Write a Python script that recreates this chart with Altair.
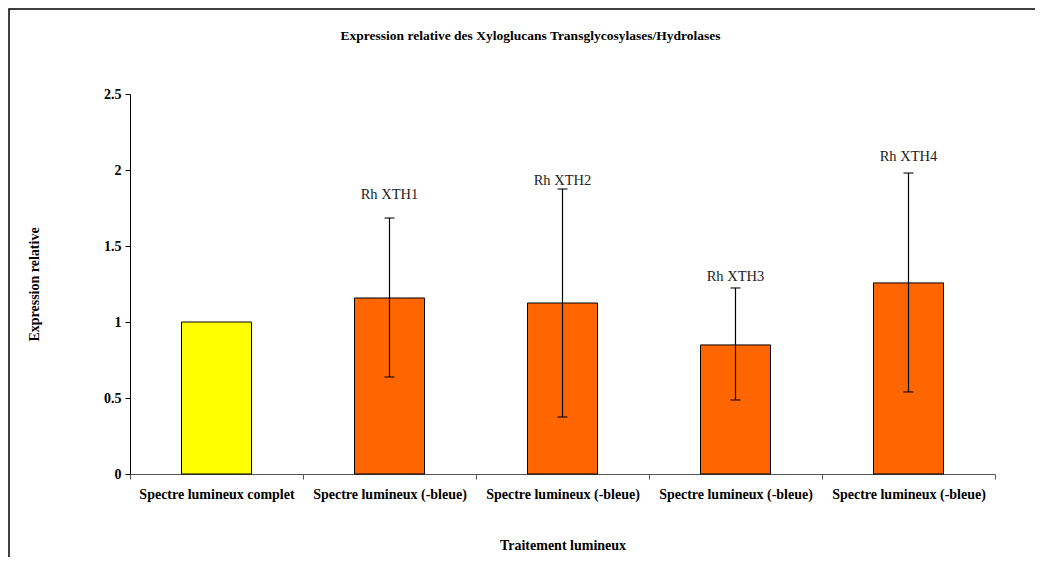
import altair as alt
import pandas as pd

categories = ["c0", "c1", "c2", "c3", "c4"]
cat_labels = ["Spectre lumineux complet", "Spectre lumineux (-bleue)", "Spectre lumineux (-bleue)",
              "Spectre lumineux (-bleue)", "Spectre lumineux (-bleue)"]
values = [1.0, 1.158, 1.125, 0.849, 1.257]
err_low = [1.0, 0.638, 0.375, 0.487, 0.540]
err_high = [1.0, 1.684, 1.875, 1.224, 1.980]
gene_labels = ["", "Rh XTH1", "Rh XTH2", "Rh XTH3", "Rh XTH4"]
label_pos = [None, 1.836, 1.928, 1.296, 2.086]
colors = ["#FFFF00", "#FF6600", "#FF6600", "#FF6600", "#FF6600"]

df = pd.DataFrame({
    "cat": categories, "value": values, "lo": err_low, "hi": err_high,
    "gene": gene_labels, "ly": label_pos, "color": colors,
})
err_df = df[df["lo"] != df["hi"]]
lab_df = df[df["gene"] != ""]

label_expr = "{" + ",".join(f"'{c}':'{l}'" for c, l in zip(categories, cat_labels)) + "}[datum.value]"

FONT = "Liberation Serif"

x = alt.X("cat:N", sort=categories,
          scale=alt.Scale(paddingInner=0, paddingOuter=0),
          axis=alt.Axis(title="Traitement lumineux", labelExpr=label_expr, labelAngle=0,
                        tickBand="extent", tickSize=5, tickColor="#555", domainColor="#555",
                        labelFont=FONT, labelFontWeight="bold", labelFontSize=14, labelColor="#000",
                        labelPadding=8, titleFont=FONT, titleFontWeight="bold", titleFontSize=14,
                        titlePadding=37, titleColor="#000"))
y_scale = alt.Scale(domain=[0, 2.5], nice=False)
y_axis = alt.Axis(title="Expression relative", values=[0, 0.5, 1, 1.5, 2, 2.5],
                  labelExpr="datum.value == 0 ? '0' : format(datum.value, '.2~f')",
                  grid=False, tickSize=5, tickColor="#000", domainColor="#000",
                  labelFont=FONT, labelFontWeight="bold", labelFontSize=14, labelColor="#000",
                  labelPadding=4, titleFont=FONT, titleFontWeight="bold", titleFontSize=14,
                  titlePadding=62, titleColor="#000")

bars = alt.Chart(df).mark_bar(size=70, stroke="#000", strokeWidth=1).encode(
    x=x,
    y=alt.Y("value:Q", scale=y_scale, axis=y_axis),
    color=alt.Color("color:N", scale=None),
)
rules = alt.Chart(err_df).mark_rule(color="#000", strokeWidth=1.2).encode(
    x=alt.X("cat:N", sort=categories), y="lo:Q", y2="hi:Q")
cap_lo = alt.Chart(err_df).mark_tick(color="#000", size=10, thickness=1.5, orient="horizontal").encode(
    x=alt.X("cat:N", sort=categories), y="lo:Q")
cap_hi = alt.Chart(err_df).mark_tick(color="#000", size=10, thickness=1.5, orient="horizontal").encode(
    x=alt.X("cat:N", sort=categories), y="hi:Q")
texts = alt.Chart(lab_df).mark_text(font=FONT, fontSize=14.5, color="#222", baseline="middle").encode(
    x=alt.X("cat:N", sort=categories), y="ly:Q", text="gene:N")

frame = alt.Chart(df.head(1)).mark_rect(fillOpacity=0, fill="white", stroke="#000", strokeWidth=1.5).encode(
    x=alt.value(-121), x2=alt.value(940), y=alt.value(-85), y2=alt.value(480))

chart = alt.layer(frame, bars, rules, cap_lo, cap_hi, texts).properties(
    width=865, height=380,
    title=alt.Title("Expression relative des Xyloglucans Transglycosylases/Hydrolases",
                    font=FONT, fontWeight="bold", fontSize=13.5, color="#000", dx=-32, offset=-48,
                    baseline="bottom"),
    autosize=alt.AutoSizeParams(type="none"),
    padding={"left": 122, "top": 86, "right": 40, "bottom": 83},
).configure(background="white").configure_view(stroke=None)

chart.save("out.html", embed_options={"renderer": "svg", "actions": False})
